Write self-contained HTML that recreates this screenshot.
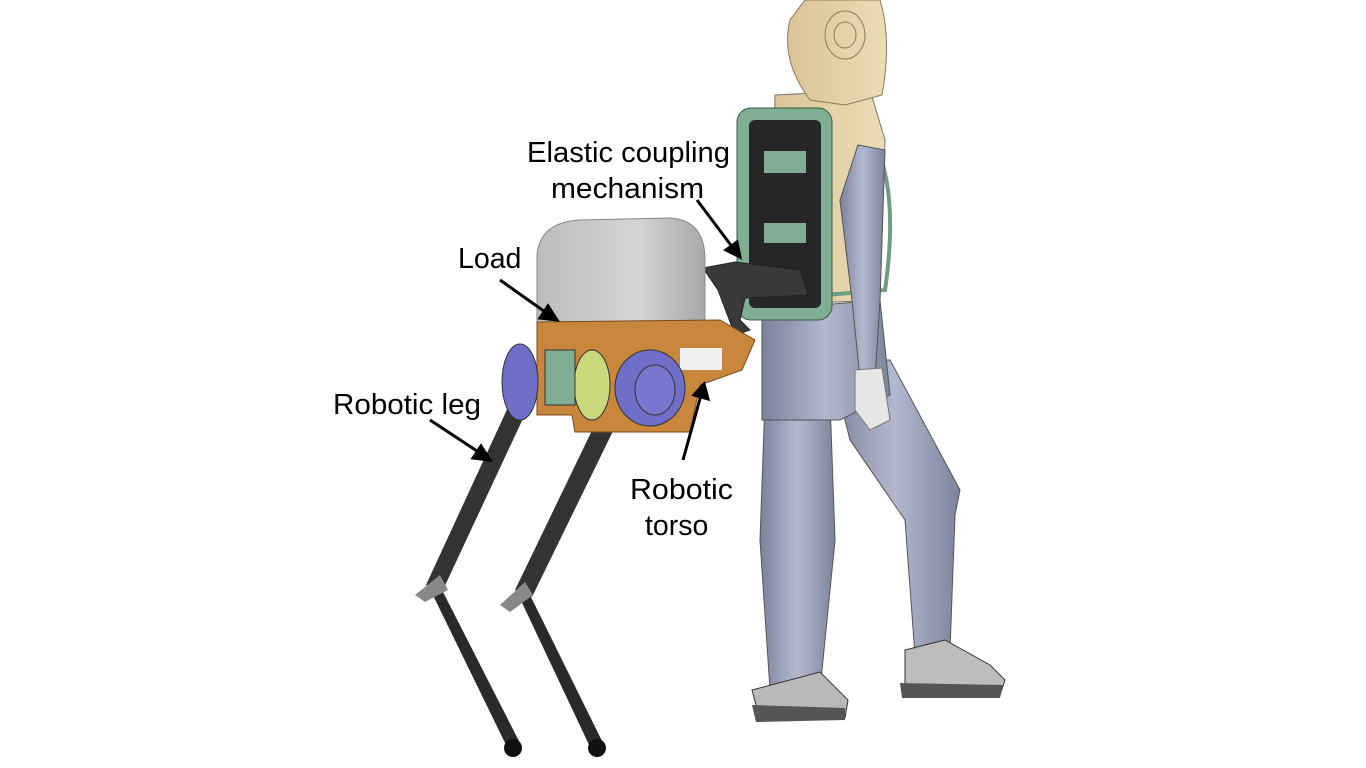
<!DOCTYPE html>
<html><head><style>
html,body{margin:0;padding:0;background:#fff;}
svg{display:block}
text{font-family:"Liberation Sans",sans-serif;font-size:28.5px;fill:#000}
</style></head><body>
<svg width="1366" height="768" viewBox="0 0 1366 768" xmlns="http://www.w3.org/2000/svg">
<defs>
<linearGradient id="gb" x1="0" x2="1"><stop offset="0" stop-color="#7c819c"/><stop offset=".5" stop-color="#b4b8cf"/><stop offset="1" stop-color="#7e839d"/></linearGradient>
<linearGradient id="ld" x1="0" x2="1"><stop offset="0" stop-color="#bcbcbc"/><stop offset=".6" stop-color="#d4d4d4"/><stop offset="1" stop-color="#a8a8a8"/></linearGradient>
<linearGradient id="bg" x1="0" x2="1"><stop offset="0" stop-color="#d9c497"/><stop offset="1" stop-color="#ecdcb4"/></linearGradient>
</defs>
<!-- human: back leg -->
<path d="M765 400 L830 400 L835 540 L820 690 L770 690 L760 540 Z" fill="url(#gb)" stroke="#555" stroke-width="1"/>
<path d="M752 690 L820 672 L848 700 L845 718 L760 720 Z" fill="#b9b9b9" stroke="#333"/>
<path d="M752 705 L845 708 L845 720 L756 722 Z" fill="#555"/>
<!-- front leg -->
<path d="M830 360 L890 360 L960 490 L955 515 L950 650 L915 655 L905 520 L850 440 Z" fill="url(#gb)" stroke="#555" stroke-width="1"/>
<path d="M905 650 L945 640 L990 665 L1005 680 L1000 695 L905 695 Z" fill="#bdbdbd" stroke="#333"/>
<path d="M900 683 L1003 685 L1000 698 L902 698 Z" fill="#555"/>
<!-- hips -->
<path d="M762 310 L880 300 L890 395 L840 420 L762 420 Z" fill="url(#gb)" stroke="#555" stroke-width="1"/>
<!-- torso -->
<path d="M775 95 L870 90 L885 140 L880 300 L770 305 Z" fill="url(#bg)" stroke="#777"/>
<!-- head -->
<path d="M805 0 L880 0 Q892 40 882 95 L845 105 L810 100 Q780 60 790 20 Z" fill="url(#bg)" stroke="#8a7a5a"/>
<ellipse cx="845" cy="35" rx="20" ry="24" fill="none" stroke="#8a7a5a"/>
<ellipse cx="845" cy="35" rx="11" ry="13" fill="none" stroke="#8a7a5a"/>
<!-- backpack straps -->
<path d="M878 150 Q898 200 885 290 L790 298" fill="none" stroke="#6f9c82" stroke-width="4"/>
<!-- backpack -->
<rect x="737" y="108" width="95" height="212" rx="14" fill="#7fae94" stroke="#3d5a4a"/>
<rect x="749" y="120" width="72" height="188" rx="6" fill="#262626"/>
<rect x="764" y="151" width="42" height="22" fill="#7fae94"/>
<rect x="764" y="223" width="42" height="20" fill="#7fae94"/>
<!-- arm -->
<path d="M858 145 L885 150 L880 300 L875 380 L860 378 L852 300 L840 200 Z" fill="url(#gb)" stroke="#555"/>
<path d="M855 370 L882 368 L890 420 L870 430 L855 410 Z" fill="#e6e6e6" stroke="#777"/>
<!-- coupling mechanism -->
<path d="M703 268 L735 262 L800 270 L808 295 L745 298 L740 320 L750 330 L735 335 L718 290 Z" fill="#3a3a3a" stroke="#222"/>
<!-- robot legs -->
<path d="M510 403 L527 410 L442 592 L426 585 Z" fill="#333"/>
<path d="M428 585 L442 590 L521 745 L508 749 Z" fill="#2a2a2a"/>
<ellipse cx="513" cy="748" rx="9" ry="9" fill="#111"/>
<path d="M598 418 L616 425 L532 597 L515 590 Z" fill="#333"/>
<path d="M516 590 L530 595 L604 745 L591 749 Z" fill="#2a2a2a"/>
<ellipse cx="597" cy="748" rx="9" ry="9" fill="#111"/>
<path d="M415 595 L440 575 L448 590 L425 602 Z" fill="#888"/>
<path d="M500 605 L525 582 L533 595 L510 612 Z" fill="#888"/>
<!-- load -->
<path d="M537 332 L537 255 Q540 222 580 220 L670 218 Q705 220 705 260 L705 332 Z" fill="url(#ld)" stroke="#888"/>
<!-- orange plate -->
<path d="M537 322 L720 320 L755 340 L742 370 L700 385 L690 432 L575 432 L572 415 L537 415 Z" fill="#c8873c" stroke="#7a4a1c"/>
<rect x="680" y="348" width="42" height="22" fill="#f0f0f0"/>
<!-- motors -->
<ellipse cx="520" cy="382" rx="18" ry="38" fill="#6f6fc8" stroke="#333"/>
<ellipse cx="592" cy="385" rx="18" ry="35" fill="#c9d87a" stroke="#333"/>
<rect x="545" y="350" width="30" height="55" fill="#7fae94" stroke="#333"/>
<ellipse cx="650" cy="388" rx="35" ry="38" fill="#6f6fc8" stroke="#333"/>
<ellipse cx="655" cy="390" rx="20" ry="25" fill="#7777d0" stroke="#333"/>
<!-- arrows -->
<g stroke="#000" stroke-width="3" fill="#000">
<line x1="500" y1="280" x2="548" y2="314"/><polygon points="557,320 540,318 548,306"/>
<line x1="697" y1="200" x2="733" y2="248"/><polygon points="740,257 726,250 737,242"/>
<line x1="430" y1="420" x2="480" y2="453"/><polygon points="490,460 473,458 481,446"/>
<line x1="683" y1="460" x2="701" y2="395"/><polygon points="704,384 708,399 694,395"/>
</g>
<text x="527" y="162" textLength="203" lengthAdjust="spacingAndGlyphs">Elastic coupling</text>
<text x="551" y="198" textLength="153" lengthAdjust="spacingAndGlyphs">mechanism</text>
<text x="458" y="268">Load</text>
<text x="333" y="414" textLength="148" lengthAdjust="spacingAndGlyphs">Robotic leg</text>
<text x="630" y="499" textLength="103" lengthAdjust="spacingAndGlyphs">Robotic</text>
<text x="645" y="535">torso</text>
</svg>
</body></html>
